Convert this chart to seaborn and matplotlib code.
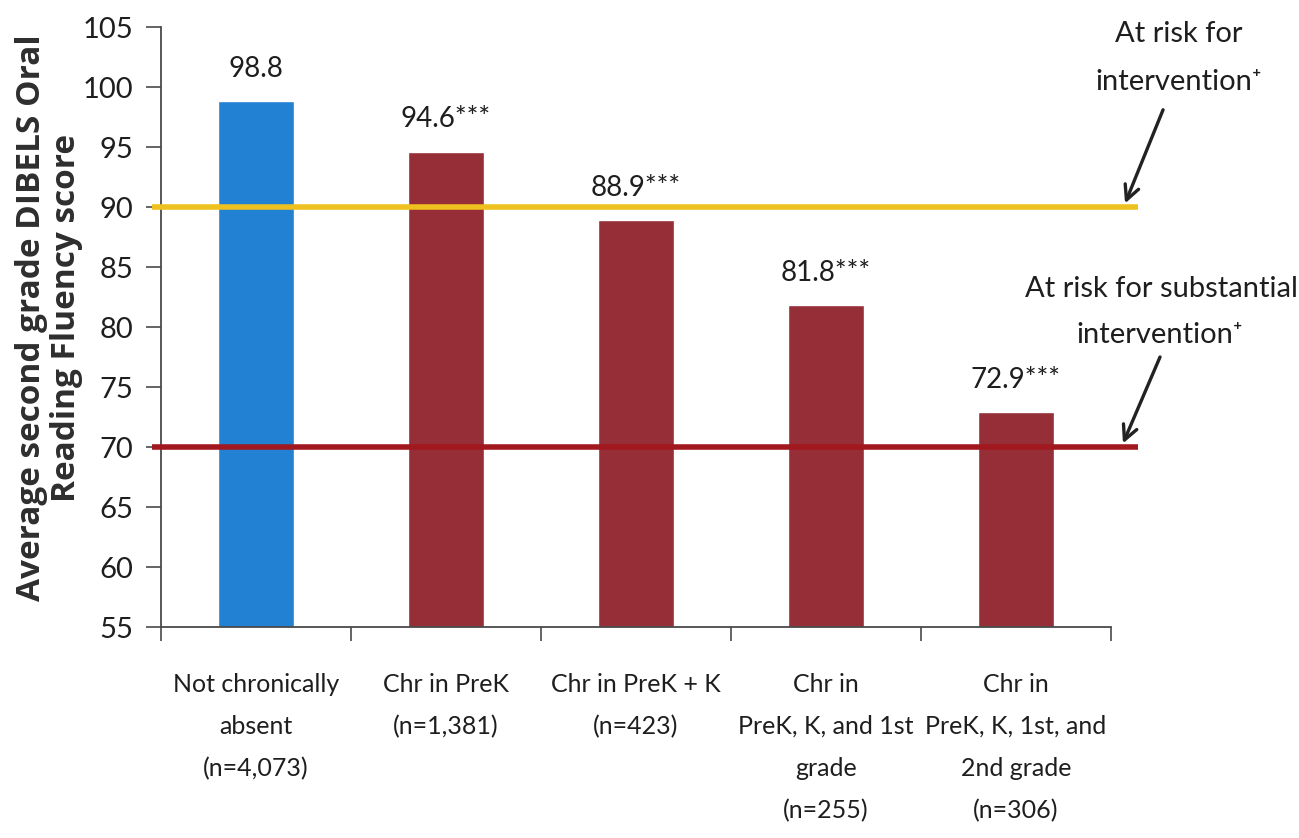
import matplotlib
matplotlib.use("Agg")
import matplotlib.pyplot as plt
import seaborn as sns
import pandas as pd
import numpy as np

# Data
categories = [
    "Not chronically\nabsent\n(n=4,073)",
    "Chr in PreK\n(n=1,381)",
    "Chr in PreK + K\n(n=423)",
    "Chr in\nPreK, K, and 1st\ngrade\n(n=255)",
    "Chr in\nPreK, K, 1st, and\n2nd grade\n(n=306)",
]
scores = [98.8, 94.6, 88.9, 81.8, 72.9]
significance = ["", "***", "***", "***", "***"]
thresholds = [90, 70]
caption_upper = ["At risk for", "intervention\u207a"]
caption_lower = ["At risk for substantial", "intervention\u207a"]
y_ticks = list(range(55, 106, 5))

bar_colors = ["#2381d3", "#952e37", "#952e37", "#952e37", "#952e37"]
line_colors = ["#efc11e", "#a2181f"]
text_color = "#1e1e1e"
axis_color = "#4a4a4a"

sns.set_theme(style="white")
plt.rcParams["font.family"] = ["Lato", "DejaVu Sans"]

fig = plt.figure(figsize=(12.99, 8.38), dpi=100)
ax = fig.add_axes([161 / 1299, 1 - 627 / 838, (1111 - 161) / 1299, (627 - 27) / 838])

df = pd.DataFrame({"group": categories, "score": scores})
sns.barplot(data=df, x="group", y="score", hue="group", palette=bar_colors,
            width=0.4, legend=False, ax=ax, saturation=1)

ax.set_ylim(55, 105)
ax.set_xlim(-0.5, len(categories) - 0.5)
ax.set_yticks(y_ticks)
ax.tick_params(axis="y", labelsize=21, length=11, width=1.2, color=axis_color,
               left=True, pad=9, labelcolor=text_color)
ax.set_xticks(range(len(categories)))
ax.set_xticklabels(categories, fontsize=18, color=text_color, linespacing=2.0)
ax.tick_params(axis="x", length=0, pad=33)
ax.set_xticks(np.arange(-0.5, len(categories), 1.0), minor=True)
ax.tick_params(axis="x", which="minor", length=10, width=1.2, color=axis_color, bottom=True)
ax.set_xlabel("")
ax.set_ylabel("Average second grade DIBELS Oral\nReading Fluency score",
              fontsize=24, fontweight="bold", color="#2e2e2e", linespacing=1.1,
              family=["Open Sans", "DejaVu Sans"])
ax.yaxis.set_label_coords(-0.082, 0.515)

for side in ["top", "right"]:
    ax.spines[side].set_visible(False)
for side in ["left", "bottom"]:
    ax.spines[side].set_color(axis_color)
    ax.spines[side].set_linewidth(1.3)

# Threshold lines run a little past both ends of the axes
for val, col in zip(thresholds, line_colors):
    ax.plot([-0.547, 4.642], [val, val], color=col, lw=4, clip_on=False, zorder=3,
            solid_capstyle="butt")

# Value labels above each bar
for i, (v, s) in enumerate(zip(scores, significance)):
    ax.text(i, v + 2.05, f"{v:.1f}{s}", ha="center", va="baseline", fontsize=20,
            color=text_color)

# Threshold captions (one text per line) and arrows
for line, (x, y) in zip(caption_upper, [(4.858, 103.75), (4.858, 99.75)]):
    ax.text(x, y, line, ha="center", va="baseline", fontsize=21,
            color=text_color, clip_on=False)
for line, (x, y) in zip(caption_lower, [(4.763, 82.5), (4.758, 78.65)]):
    ax.text(x, y, line, ha="center", va="baseline", fontsize=21,
            color=text_color, clip_on=False)

arrow_style = dict(arrowstyle="->", color="#222222", lw=2.4, mutation_scale=26,
                   shrinkA=0, shrinkB=0)
ax.annotate("", xy=(4.574, 90.3), xytext=(4.774, 98.1), arrowprops=arrow_style,
            annotation_clip=False)
ax.annotate("", xy=(4.563, 70.3), xytext=(4.758, 77.5), arrowprops=arrow_style,
            annotation_clip=False)

fig.savefig("out.png", dpi=100, facecolor="white")
